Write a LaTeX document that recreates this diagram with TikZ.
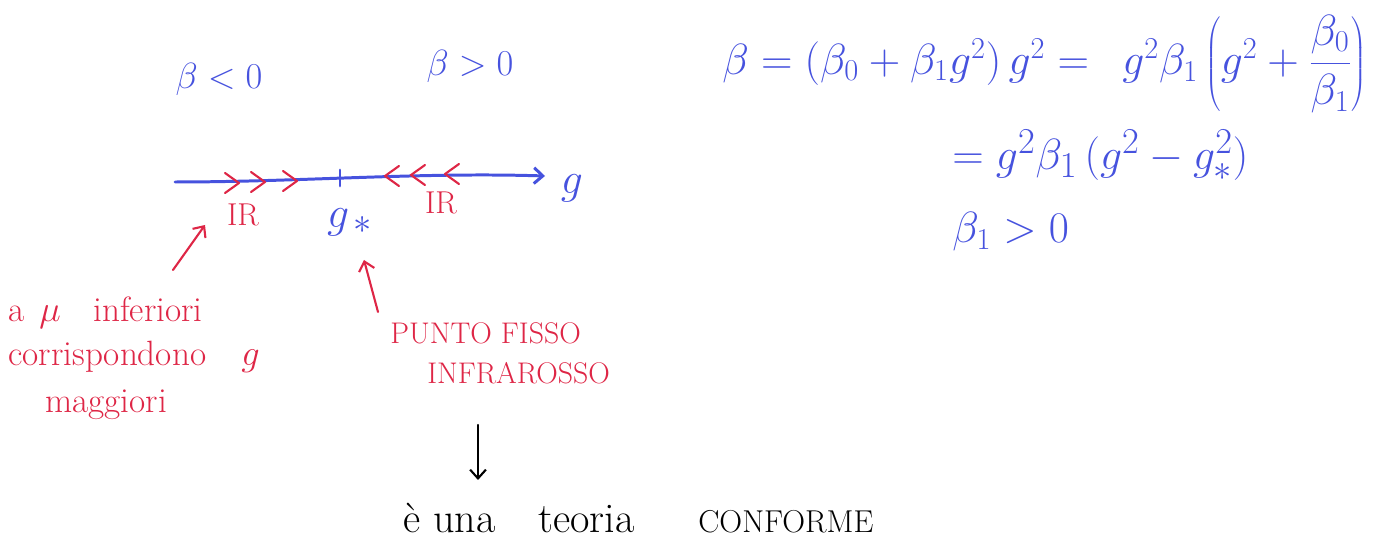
\documentclass[tikz,border=0pt]{standalone}
\usetikzlibrary{arrows.meta}
\definecolor{penblue}{RGB}{70,82,222}
\definecolor{penred}{RGB}{222,38,70}
\begin{document}
\begin{tikzpicture}[x=0.02cm,y=-0.02cm,
  fs/.style={font=\fontsize{#1}{#1}\selectfont},
  bl/.style={text=penblue,inner sep=0pt},
  rd/.style={text=penred,inner sep=0pt},
  bk/.style={text=black,inner sep=0pt},
  blueline/.style={draw=penblue,line width=1.7pt,line cap=round,line join=round},
  redline/.style={draw=penred,line width=1.2pt,line cap=round,line join=round},
  blackline/.style={draw=black,line width=1.2pt,line cap=round,line join=round},
  tip/.style={-{Straight Barb[length=5pt,width=9pt]}}
]
\useasboundingbox (0,0) rectangle (1399,543);

% signs of beta
\node[bl,fs=20] (blt) at (219,79) {$\beta<0$};
\node[bl,fs=21] (bgt) at (470,66) {$\beta>0$};

% axis
\coordinate (axL) at (175,182);
\coordinate (axR) at (545,176);
\coordinate (fix) at (340,178);
\node[bl,fs=28] (gax) at (572,188) {$g$};
\draw[blueline,tip] (axL) .. controls (300,182) and (420,172) .. (axR);
\draw[blueline] (fix) ++(0,-8) -- ++(0,16);

% red flow chevrons
\foreach \x/\y in {232/183,258/182,290/181}
  \draw[redline] (\x-7,\y-10) -- (\x+7,\y) -- (\x-7,\y+10);
\foreach \x/\y in {392/176,418/175,452/174}
  \draw[redline] (\x+7,\y-10) -- (\x-7,\y) -- (\x+7,\y+10);

% labels on axis
\node[rd,fs=18] (ir1) at (243,215) {IR};
\node[rd,fs=18] (ir2) at (441,203) {IR};
\node[bl,fs=28] (gstar) at (350,222) {$g_{\,*}$};

% red annotation left
\node[rd,fs=20,anchor=west] (t1) at (8,313) {a\hspace{0.3cm}$\mu$\hspace{0.65cm}inferiori};
\node[rd,fs=20,anchor=west] (t2) at (8,357) {corrispondono\quad$g$};
\node[rd,fs=20,anchor=west] (t3) at (45,405) {maggiori};
\coordinate (a1s) at (173,270);
\coordinate (a1e) at (205,225);
\draw[redline,tip] (a1s) -- (a1e);

% red annotation right
\node[rd,fs=17,anchor=west] (p1) at (390,333) {PUNTO FISSO};
\node[rd,fs=17,anchor=west] (p2) at (427,373) {INFRAROSSO};
\coordinate (a2s) at (378,312);
\coordinate (a2e) at (364,260);
\draw[redline,tip] (a2s) -- (a2e);

% black conclusion
\coordinate (a3s) at (478,425);
\coordinate (a3e) at (478,480);
\draw[blackline,tip] (a3s) -- (a3e);
\node[bk,fs=24,anchor=base west] (c1) at (403,532) {\`e una\hspace{0.6cm} teoria};
\node[bk,fs=18,anchor=base west] (c2) at (698,532) {CONFORME};

% equations
\node[bl,fs=24,anchor=west] (eq1) at (722,62) {$\beta = (\beta_0+\beta_1 g^2)\,g^2 =$};
\node[bl,fs=26,anchor=west] (eq1b) at (1122,64) {$g^2\beta_1\left(g^2+{\displaystyle\frac{\beta_0}{\beta_1}}\right)$};
\node[bl,fs=30,anchor=west] (eq2) at (952,155) {$= g^2\beta_1\,\bigl(g^2-g_{*}^2\bigr)$};
\node[bl,fs=26,anchor=west] (eq3) at (952,232) {$\beta_1>0$};
\end{tikzpicture}
\end{document}
